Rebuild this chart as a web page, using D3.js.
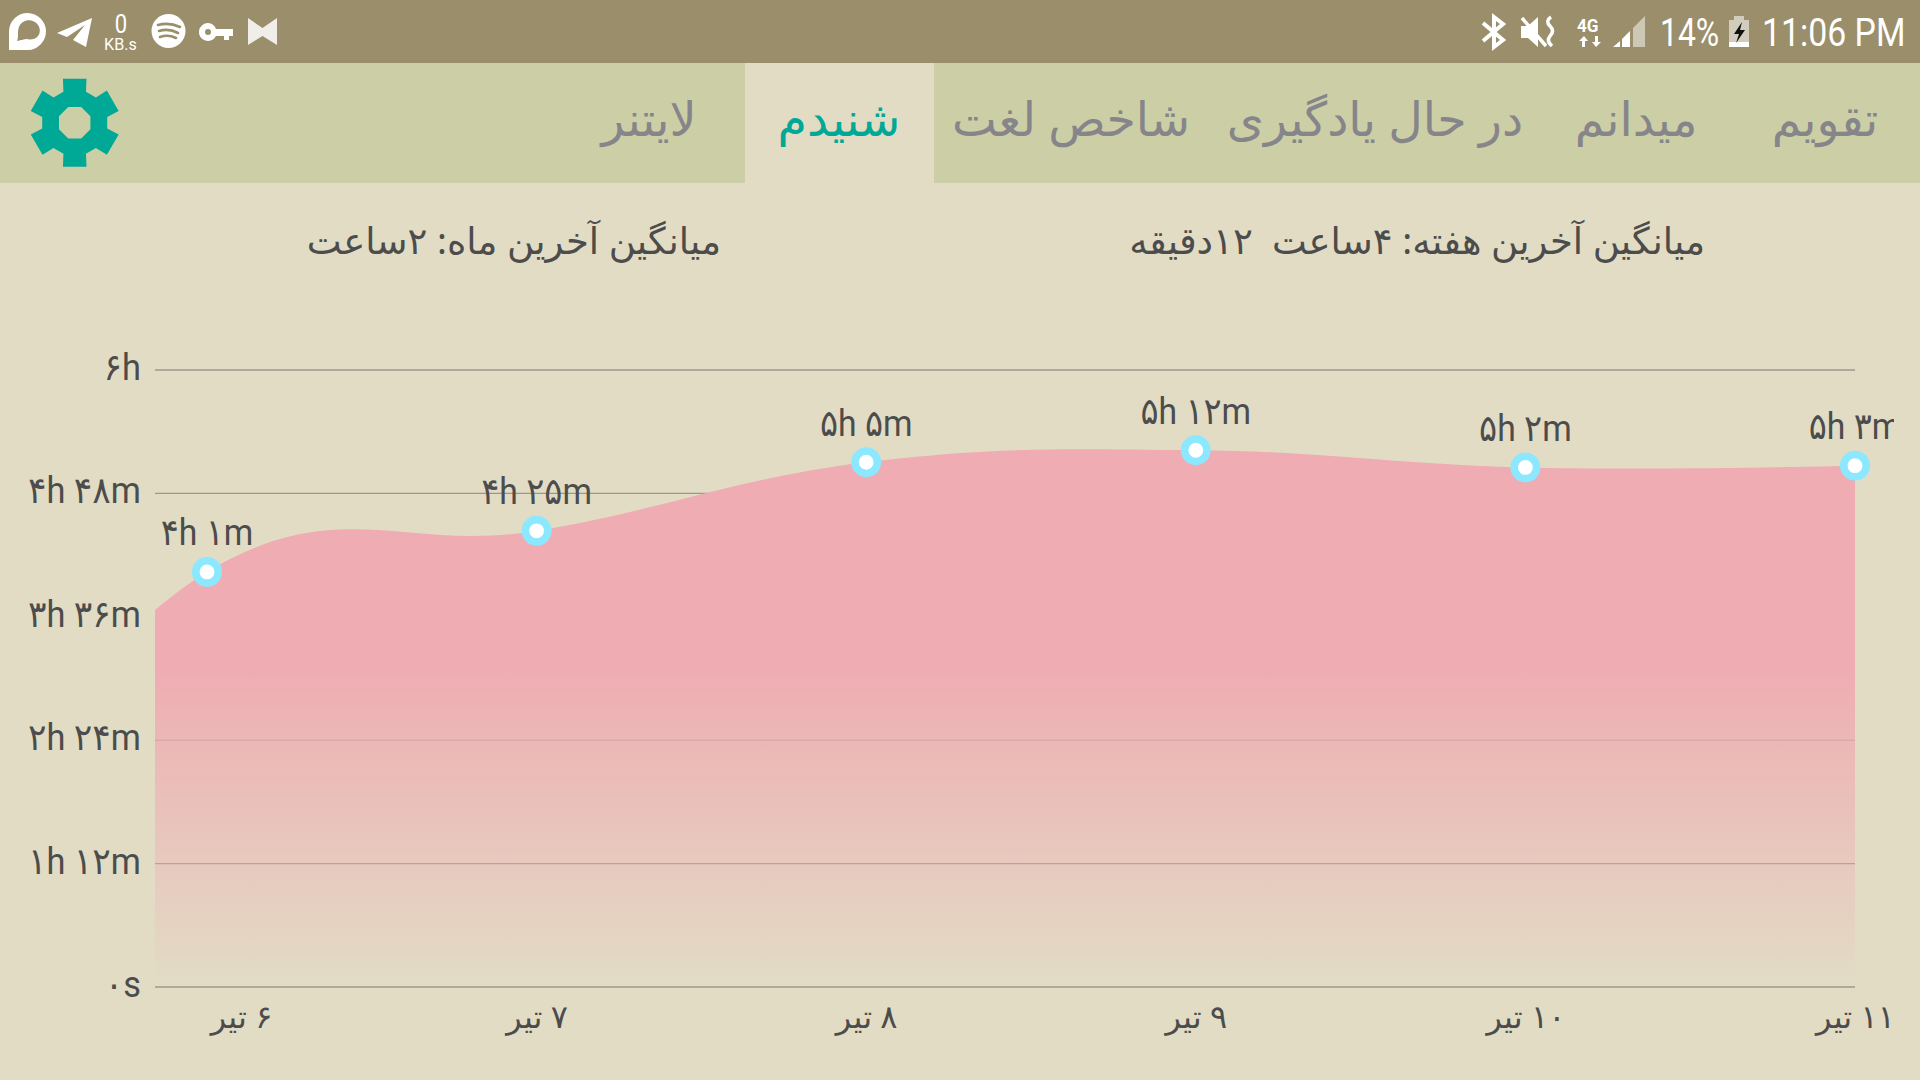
<!DOCTYPE html>
<html>
<head>
<meta charset="utf-8">
<script src="https://cdnjs.cloudflare.com/ajax/libs/d3/7.8.5/d3.min.js"></script>
<style>
  body { margin: 0; background: #e2dcc5; overflow: hidden; }
  svg { display: block; }
  text { font-family: Roboto, "Noto Sans", "DejaVu Sans", sans-serif; }
  .fa { font-family: "Noto Sans", "DejaVu Sans", sans-serif; direction: rtl; }
</style>
</head>
<body>
<svg width="1920" height="1080"></svg>
<script>
// minutes listened per day. the first one is the day before 6 tir, it is off the
// left edge and only bends the curve
let hiddenMinutes = 33
let minutes = [241, 265, 305, 312, 302, 303]
let valueLabels = ["۴h ۱m", "۴h ۲۵m", "۵h ۵m", "۵h ۱۲m", "۵h ۲m", "۵h ۳m"]
let dayLabels = ["۶ تیر", "۷ تیر", "۸ تیر", "۹ تیر", "۱۰ تیر", "۱۱ تیر"]
let yTicks = [0, 72, 144, 216, 288, 360]
let yTickLabels = ["۰s", "۱h ۱۲m", "۲h ۲۴m", "۳h ۳۶m", "۴h ۴۸m", "۶h"]

let tabLabels = ["تقویم", "میدانم", "در حال یادگیری", "شاخص لغت", "شنیدم", "لایتنر"]
let tabCenters = [1825, 1636, 1375, 1071, 839, 649]
let activeTab = 4

let bg = "#e2dcc5"
let textColor = "#4c4c4c"
let teal = "#00a896"

let svg = d3.select("svg")

// header bars
svg.append("rect").attr("width", 1920).attr("height", 63).attr("fill", "#9b8e6b")
svg.append("rect").attr("y", 63).attr("width", 1920).attr("height", 120).attr("fill", "#ccceA6")
svg.append("rect").attr("x", 745).attr("y", 63).attr("width", 189).attr("height", 120).attr("fill", bg)

svg.selectAll(".tab")
   .data(tabLabels)
   .enter()
   .append("text")
   .attr("class", "tab fa")
   .attr("x", (d, i) => tabCenters[i])
   .attr("y", 136)
   .attr("text-anchor", "middle")
   .attr("font-size", 47.5)
   .attr("fill", (d, i) => i == activeTab ? teal : "#85858a")
   .text(d => d)

// settings gear
let gearPoint = (deg, r) => {
  let a = (deg - 90) * Math.PI / 180
  return [74.7 + r * Math.cos(a), 122.7 + r * Math.sin(a)]
}
let gearOutline = d3.range(6).flatMap(i => {
  let c = i * 60
  return [gearPoint(c - 20, 33), gearPoint(c - 15, 45.5), gearPoint(c + 15, 45.5), gearPoint(c + 20, 33)]
})
let gearHole = d3.range(8).map(i => gearPoint(22.5 + i * 45, 17))
let closed = pts => "M" + pts.map(p => p.join(",")).join("L") + "Z"
svg.append("path")
   .attr("d", closed(gearOutline) + closed(gearHole))
   .attr("fill", teal)
   .attr("fill-rule", "evenodd")

// averages line
svg.append("text").attr("class", "fa")
   .attr("x", 1705).attr("y", 254).attr("text-anchor", "start")
   .attr("font-size", 37).attr("fill", textColor)
   .text("میانگین آخرین هفته: ۴ساعت\u00a0\u00a0۱۲دقیقه")
svg.append("text").attr("class", "fa")
   .attr("x", 721).attr("y", 254).attr("text-anchor", "start")
   .attr("font-size", 37).attr("fill", textColor)
   .text("میانگین آخرین ماه: ۲ساعت")

// status bar
let status = svg.append("g").attr("fill", "#fff")
status.append("path").attr("fill-rule", "evenodd")
      .attr("d", "M9 50V31A18.5 18.5 0 1 1 28 50ZM17 41L26 39C40 42 42 30 38 25C33 18 22 19 19 27C17 32 19 36 17 41Z")
status.append("path").attr("d", "M57 33L92 18L86 47L73 40L85 25L67 37Z")
status.append("text").attr("transform", "translate(121, 33) scale(0.85, 1)").attr("text-anchor", "middle").attr("font-size", 26).text("0")
status.append("text").attr("transform", "translate(104, 50) scale(0.95, 1)").attr("font-size", 17).text("KB.s")
status.append("circle").attr("cx", 168.5).attr("cy", 31).attr("r", 17)
status.append("path").attr("fill", "none").attr("stroke", "#9b8e6b").attr("stroke-width", 2.6).attr("stroke-linecap", "round")
      .attr("d", "M158 25Q169 22 180 27M159 31Q169 28 178 33M160 37Q168 34 176 38")
status.append("path").attr("fill-rule", "evenodd")
      .attr("d", "M208 23A9 9 0 0 1 216 29H233V36H229V40H224V36H216A9 9 0 1 1 208 23ZM208 29A3 3 0 1 0 208 35A3 3 0 1 0 208 29Z")
status.append("path").attr("opacity", 0.85).attr("d", "M248 18L262.5 28L277 18V45L262.5 36L248 45Z")
status.append("path").attr("fill", "none").attr("stroke", "#fff").attr("stroke-width", 4)
      .attr("d", "M1483 23L1503 40L1494 47V17L1503 24L1483 41")
status.append("path").attr("d", "M1521 26H1528L1538 17V47L1528 38H1521Z")
status.append("path").attr("fill", "none").attr("stroke", "#fff").attr("stroke-width", 3.5)
      .attr("d", "M1522 18L1546 46M1551 17Q1545 21 1550 26Q1555 31 1550 36Q1546 41 1552 46")
status.append("text").attr("transform", "translate(1577, 32) scale(0.9, 1)").attr("font-size", 19).attr("font-weight", 700).text("4G")
status.append("path").attr("d", "M1582 47V41H1579L1584 36L1588 41H1585V47ZM1595 36V42H1592L1596 47L1601 42H1598V36Z")
status.append("path").attr("d", "M1613 47L1620 41V47ZM1622 47V39L1630 31V47Z")
status.append("path").attr("opacity", 0.5).attr("d", "M1633 47V28L1645 16V47Z")
status.append("text").attr("transform", "translate(1660, 46) scale(0.84, 1)").attr("font-size", 38).text("14%")
status.append("path").attr("opacity", 0.55).attr("d", "M1729 20H1734V16H1744V20H1749V42H1729Z")
status.append("path").attr("d", "M1729 42H1749V47H1729Z")
status.append("path").attr("fill", "#111").attr("d", "M1742 22L1734 34H1739L1736 43L1745 30H1740Z")
status.append("text").attr("transform", "translate(1762, 46) scale(0.89, 1)").attr("font-size", 38).text("11:06 PM")

// chart
let plotLeft = 155
let plotRight = 1855
let plotTop = 369.5
let plotBottom = 986.5

let xScale = d3.scaleLinear().domain([0, 5]).range([207, 1855])
let yScale = d3.scaleLinear().domain([0, 360]).range([plotBottom, plotTop])

let yAxis = d3.axisLeft(yScale)
              .tickValues(yTicks)
              .tickFormat((d, i) => yTickLabels[i])
              .tickSize(-(plotRight - plotLeft))
              .tickPadding(14)
let yAxisG = svg.append("g")
                .attr("transform", "translate(" + plotLeft + ", 0)")
                .call(yAxis)
yAxisG.select(".domain").remove()
yAxisG.selectAll("line").attr("stroke", "#9c988b").attr("stroke-width", 1.4)
yAxisG.selectAll("text")
      .attr("font-size", 37)
      .attr("fill", textColor)
      .attr("x", 0)
      .attr("dy", 0)
      .attr("transform", "translate(-14, 10) scale(0.93, 1)")
      .style("font-family", "Roboto, 'DejaVu Sans', sans-serif")

let xAxis = d3.axisBottom(xScale)
              .tickValues(d3.range(6))
              .tickFormat((d, i) => dayLabels[i])
              .tickSize(0)
              .tickPadding(0)
let xAxisG = svg.append("g")
                .attr("transform", "translate(0, 1028)")
                .call(xAxis)
xAxisG.select(".domain").remove()
xAxisG.selectAll("text")
      .attr("class", "fa")
      .attr("font-size", 32)
      .attr("fill", textColor)
      .attr("y", 0)
      .attr("dy", 0)
      .attr("dx", (d, i) => i == 0 ? 34 : 0)

let defs = svg.append("defs")
let grad = defs.append("linearGradient")
               .attr("id", "areaFill")
               .attr("gradientUnits", "userSpaceOnUse")
               .attr("x1", 0).attr("x2", 0)
               .attr("y1", 670).attr("y2", 986)
grad.append("stop").attr("offset", 0).attr("stop-color", "#efacb2").attr("stop-opacity", 1)
grad.append("stop").attr("offset", 1).attr("stop-color", "#efacb2").attr("stop-opacity", 0)
defs.append("clipPath").attr("id", "plotClip").append("rect")
    .attr("x", plotLeft).attr("y", 0).attr("width", plotRight - plotLeft).attr("height", 1080)
defs.append("clipPath").attr("id", "labelClip").append("rect")
    .attr("x", 0).attr("y", 0).attr("width", 1894).attr("height", 1080)

let series = [hiddenMinutes].concat(minutes)
let area = d3.area()
             .x((d, i) => xScale(i - 1))
             .y0(yScale(0))
             .y1(d => yScale(d))
             .curve(d3.curveCardinal.tension(-0.2))

let marks = svg.append("g").attr("transform", "translate(0, -1.5)")
marks.append("path")
     .datum(series)
     .attr("d", area)
     .attr("fill", "url(#areaFill)")
     .attr("clip-path", "url(#plotClip)")

marks.selectAll(".dot")
     .data(minutes)
     .enter()
     .append("circle")
     .attr("class", "dot")
     .attr("cx", (d, i) => xScale(i))
     .attr("cy", d => yScale(d))
     .attr("r", 11.2)
     .attr("fill", "#fff")
     .attr("stroke", "#8ce8ff")
     .attr("stroke-width", 7.6)

marks.append("g")
     .attr("clip-path", "url(#labelClip)")
     .selectAll("text")
     .data(minutes)
     .enter()
     .append("text")
     .attr("transform", (d, i) => "translate(" + xScale(i) + ", " + (yScale(d) - 26.5) + ") scale(0.91, 1)")
     .attr("text-anchor", "middle")
     .attr("font-size", 37)
     .attr("fill", textColor)
     .text((d, i) => valueLabels[i])
</script>
</body>
</html>
